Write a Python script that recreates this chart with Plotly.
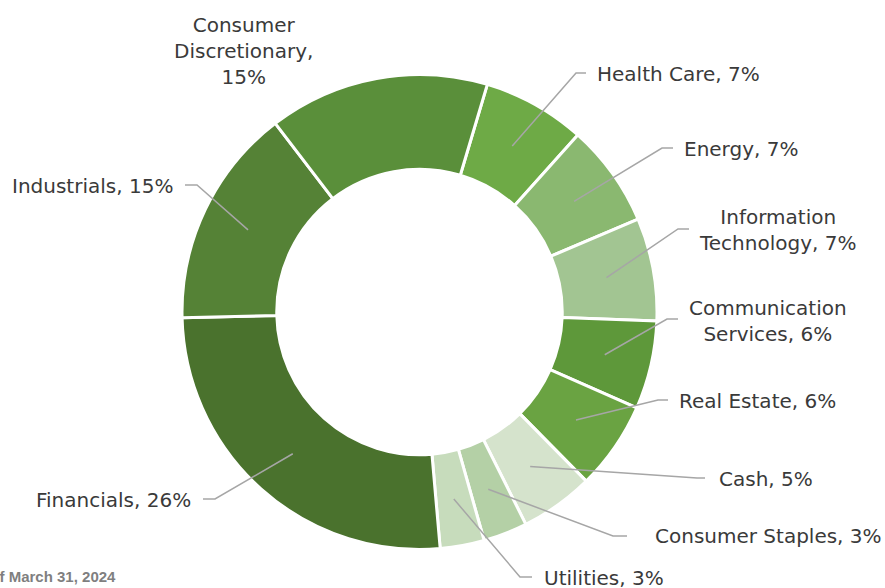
import math
import plotly.graph_objects as go

W, H = 885, 588

# ---- data ----
sectors = ["Health Care", "Energy", "Information Technology", "Communication Services",
           "Real Estate", "Cash", "Consumer Staples", "Utilities", "Financials",
           "Industrials", "Consumer Discretionary"]
weights = [7, 7, 7, 6, 6, 5, 3, 3, 26, 15, 15]
label_texts = ["Health Care, 7%", "Energy, 7%", "Information<br>Technology, 7%",
               "Communication<br>Services, 6%", "Real Estate, 6%", "Cash, 5%",
               "Consumer Staples, 3%", "Utilities, 3%", "Financials, 26%",
               "Industrials, 15%", "Consumer<br>Discretionary,<br>15%"]
footnote = "As of March 31, 2024"

# ---- styles / layout ----
colors = ["#6eaa46", "#8ab870", "#a2c592", "#5e983a", "#6aa342", "#d5e3cc",
          "#b4d0a6", "#c7dcbc", "#4a722d", "#558236", "#5a8f3a"]
rotation = 16.6
cx, cy, R = 419.5, 312.0, 237.5
hole = 0.601
mid_r = R * (1 + hole) / 2
FONT = "DejaVu Sans, Liberation Sans, Arial, sans-serif"

# label placement (pixel): (text x, text y, xanchor, elbow x, elbow y, end x) ; None => no leader
label_pos = [
    (595, 74, "left", 576, 73, 586),
    (682, 149, "left", 662, 148, 673),
    (777, 230, "center", 678, 229, 689),
    (768, 321, "center", 667, 319, 678),
    (677, 401, "left", 658, 400, 668),
    (717, 479, "left", 697, 478, 705),
    (653, 536, "left", 613, 536, 627),
    (542, 578, "left", 520, 577, 532),
    (193, 500, "right", 215, 499, 203),
    (175, 186, "right", 197, 185, 185),
    (243, 51, "center", None, None, None),
]


def px(x):
    return x / W


def py(y):
    return 1 - y / H


fig = go.Figure()
fig.add_trace(go.Pie(
    labels=sectors, values=weights, sort=False, direction="clockwise",
    rotation=rotation, hole=hole,
    marker=dict(colors=colors, line=dict(color="white", width=3)),
    textinfo="none", hoverinfo="label+percent", showlegend=False,
    domain=dict(x=[px(cx - R), px(cx + R)], y=[py(cy + R), py(cy - R)]),
))

total = sum(weights)
cum = 0.0
shapes = []
annotations = []
for i, v in enumerate(weights):
    mid_ang = math.radians(rotation + 360.0 * (cum + v / 2) / total)
    cum += v
    sx = cx + mid_r * math.sin(mid_ang)
    sy = cy - mid_r * math.cos(mid_ang)
    tx, ty, xa, ex, ey, endx = label_pos[i]
    if ex is not None:
        path = "M {} {} L {} {} L {} {}".format(px(sx), py(sy), px(ex), py(ey), px(endx), py(ey))
        shapes.append(dict(type="path", path=path, xref="paper", yref="paper",
                           line=dict(color="#a6a6a6", width=1.5)))
    annotations.append(dict(
        x=px(tx), y=py(ty), xref="paper", yref="paper", text=label_texts[i],
        showarrow=False, xanchor=xa, yanchor="middle", align="center",
        font=dict(family=FONT, size=20, color="#3a3a3a"),
    ))

annotations.append(dict(
    x=px(118), y=py(576), xref="paper", yref="paper", text="<b>" + footnote + "</b>",
    showarrow=False, xanchor="right", yanchor="middle",
    font=dict(family="Liberation Sans, Arial, sans-serif", size=15, color="#7f7f7f"),
))

fig.update_layout(
    width=W, height=H, margin=dict(l=0, r=0, t=0, b=0),
    paper_bgcolor="white", plot_bgcolor="white",
    shapes=shapes, annotations=annotations,
)
fig.write_html("out.html", config={"displayModeBar": False},
               post_script="document.body.style.margin='0px';document.body.style.padding='0px';")
